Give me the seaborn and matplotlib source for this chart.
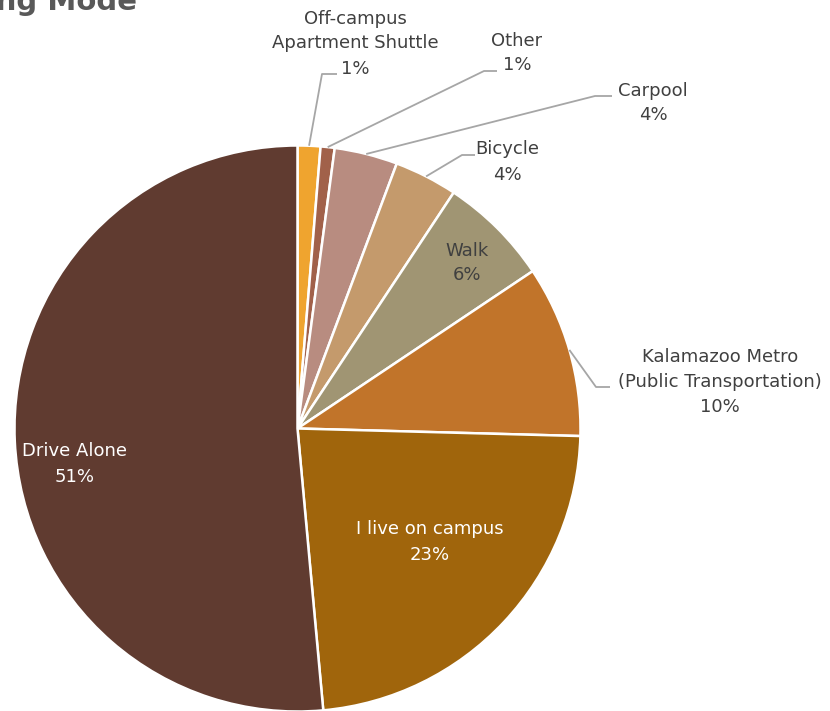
import matplotlib
matplotlib.use("Agg")
import matplotlib.pyplot as plt
import seaborn as sns
import numpy as np

# ---- data (clockwise from 12 o'clock) ----
categories = ["Off-campus\nApartment Shuttle", "Other", "Carpool", "Bicycle", "Walk",
              "Kalamazoo Metro\n(Public Transportation)", "I live on campus", "Drive Alone"]
shares = [1.3, 0.8, 3.6, 3.6, 6.3, 9.8, 23.1, 51.4]
colors = ["#EFA42F", "#A1614A", "#B88C80", "#C49A6C", "#A09573",
          "#C1742A", "#A0650C", "#603B30"]
text_colors = ["#404040"] * 6 + ["white", "white"]
title_text = "Commuting Mode"

sns.set_theme(style="white")
plt.rcParams["font.family"] = ["DejaVu Sans"]

W, H = 830, 711
fig = plt.figure(figsize=(W / 100, H / 100), dpi=100)
cx, cy, R = 297.5, 428.5, 283.0
ax = fig.add_axes([(cx - R) / W, (H - cy - R) / H, 2 * R / W, 2 * R / H])

wedges, _ = ax.pie(shares, colors=colors, startangle=90, counterclock=False,
                   wedgeprops=dict(edgecolor="white", linewidth=1.8))
ax.set_xlim(-1, 1)
ax.set_ylim(-1, 1)
ax.set_aspect("equal")
ax.axis("off")


def p2d(px, py):
    return (px - cx) / R, (cy - py) / R


# label layout (pixel positions of text block centres and leader elbows)
label_pos = [(355, 43.5), (517, 53), (653, 103), (507, 162), (467, 263),
             (720, 382), (430, 542), (75, 464)]
elbows = {0: [(322, 74), (337, 74)], 1: [(484, 71), (497, 71)],
          2: [(595, 96), (612, 96)], 3: [(462, 155), (475, 155)],
          5: [(596, 387), (610, 387)]}

total = sum(shares)
cum = 0.0
for i, (cat, v) in enumerate(zip(categories, shares)):
    mid = (cum + v / 2) / total * 2 * np.pi
    cum += v
    pct = v / total * 100
    tx, ty = p2d(*label_pos[i])
    ax.text(tx, ty, f"{cat}\n{pct:.0f}%", ha="center", va="center",
            fontsize=13, color=text_colors[i], linespacing=1.5, clip_on=False)
    if i in elbows:
        sx, sy = np.sin(mid), np.cos(mid)
        pts = [(sx, sy)] + [p2d(*e) for e in elbows[i]]
        xs, ys = zip(*pts)
        ax.plot(xs, ys, color="#A6A6A6", lw=1.3, clip_on=False, solid_capstyle="butt")

fig.text(137 / W, 1 - 10 / H, title_text, ha="right", va="baseline",
         fontsize=21, fontweight="bold", color="#595959")

fig.savefig("out.png", dpi=100)
